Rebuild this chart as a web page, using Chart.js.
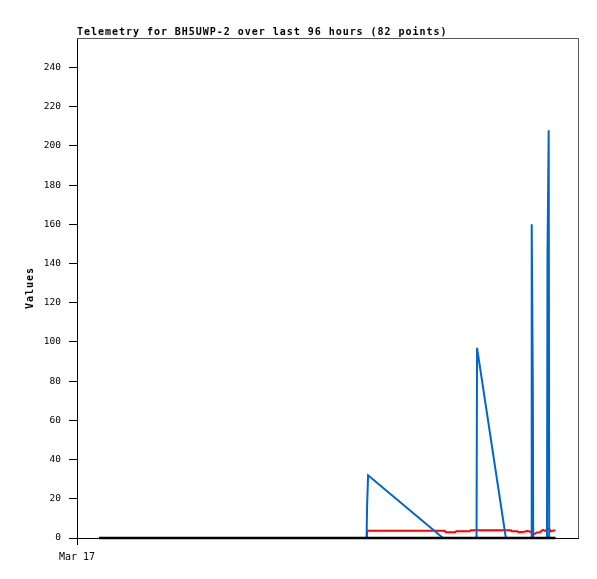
<!DOCTYPE html>
<html lang="en">
<head>
    <meta charset="UTF-8">
    <title>Telemetry for BH5UWP-2</title>
    <style>
        body { margin: 0; background: #fff; }
    </style>
</head>
<body>
    <canvas id="telemetryChart" width="597" height="579"></canvas>

    <script src="https://cdn.jsdelivr.net/npm/chart.js"></script>
    <script>
        // hours from the left edge of the plot (Mar 17)
        const blueTimes  = [4.4, 57.8, 57.9, 58.1, 73.05, 79.75, 79.85, 85.6, 90.62, 90.76, 90.98, 91.06, 93.81, 93.91, 94.15, 94.25, 95.5];
        const blueValues = [0, 0, 16, 32, 0, 0, 97, 0, 0, 160, 80, 0, 0, 145, 208, 0, 0];

        const redTimes  = [4.4, 57.85, 57.95, 73.4, 73.6, 75.5, 75.7, 78.4, 78.6, 86.6, 86.8, 87.9, 88.1, 89.3, 89.8, 90.4, 91.2, 91.8, 92.4, 93.0, 93.4, 94.2, 94.6, 95.5];
        const redValues = [0, 0, 3.7, 3.7, 2.9, 2.9, 3.4, 3.4, 3.9, 3.9, 3.4, 3.4, 2.9, 3.2, 3.6, 3.3, 1.9, 2.8, 3.0, 4.1, 3.6, 4.9, 3.4, 4.0];

        const blackTimes  = [4.4, 95.5];
        const blackValues = [0, 0];

        const yTicks = [0, 20, 40, 60, 80, 100, 120, 140, 160, 180, 200, 220, 240];
        const xTickLabels = ['Mar 17'];

        const chartTitle = 'Telemetry for BH5UWP-2 over last 96 hours (82 points)';
        const yTitle = 'Values';

        function toPoints(times, values) {
            return times.map((t, i) => ({ x: t, y: values[i] }));
        }

        // title, y label and the grey top/right frame
        const frame = {
            id: 'frame',
            beforeDatasetsDraw(chart) {
                const { ctx, chartArea: a } = chart;
                ctx.save();
                ctx.strokeStyle = '#555';
                ctx.lineWidth = 1;
                ctx.beginPath();
                ctx.moveTo(a.left, a.top + 0.5);
                ctx.lineTo(a.right + 0.5, a.top + 0.5);
                ctx.lineTo(a.right + 0.5, a.bottom);
                ctx.stroke();
                ctx.restore();
            },
            afterDraw(chart) {
                const { ctx, chartArea: a } = chart;
                ctx.save();
                ctx.fillStyle = '#000';
                ctx.font = 'bold 10px "DejaVu Sans Mono"';
                ctx.letterSpacing = '0.97px';
                ctx.textAlign = 'left';
                ctx.textBaseline = 'alphabetic';
                ctx.fillText(chartTitle, a.left, 35);

                ctx.translate(33, (a.top + a.bottom) / 2);
                ctx.rotate(-Math.PI / 2);
                ctx.textAlign = 'center';
                ctx.fillText(yTitle, 0, 0);
                ctx.restore();
            }
        };

        const ctx = document.getElementById('telemetryChart').getContext('2d');
        const chart = new Chart(ctx, {
            type: 'line',
            data: {
                datasets: [
                    {
                        label: 'black',
                        data: toPoints(blackTimes, blackValues),
                        borderColor: '#000000',
                        borderWidth: 2.5,
                        clip: 5,
                        order: 0
                    },
                    {
                        label: 'blue',
                        data: toPoints(blueTimes, blueValues),
                        borderColor: '#0066cc',
                        borderWidth: 2,
                        clip: 5,
                        order: 1
                    },
                    {
                        label: 'red',
                        data: toPoints(redTimes, redValues),
                        borderColor: '#ff0000',
                        borderWidth: 2,
                        clip: 5,
                        order: 2
                    }
                ]
            },
            options: {
                responsive: false,
                animation: false,
                devicePixelRatio: 1,
                layout: {
                    padding: { left: 0, right: 19, top: 38, bottom: 11 }
                },
                elements: {
                    point: { radius: 0 },
                    line: { tension: 0, fill: false }
                },
                plugins: {
                    legend: { display: false },
                    title: { display: false },
                    tooltip: { enabled: false }
                },
                scales: {
                    x: {
                        type: 'linear',
                        min: 0,
                        max: 100,
                        afterFit: (scale) => { scale.height = 30; },
                        afterBuildTicks: (scale) => { scale.ticks = [{ value: 0 }]; },
                        border: { color: '#000', width: 1 },
                        grid: {
                            drawOnChartArea: false,
                            tickLength: 7,
                            color: '#000'
                        },
                        ticks: {
                            autoSkip: false,
                            maxRotation: 0,
                            padding: 6,
                            color: '#000',
                            font: { family: 'DejaVu Sans Mono', size: 10 },
                            callback: (v, i) => xTickLabels[i]
                        }
                    },
                    y: {
                        min: 0,
                        max: 255,
                        afterFit: (scale) => { scale.width = 77; },
                        afterBuildTicks: (scale) => { scale.ticks = yTicks.map(v => ({ value: v })); },
                        border: { color: '#000', width: 1 },
                        grid: {
                            drawOnChartArea: false,
                            tickLength: 8,
                            color: '#000'
                        },
                        ticks: {
                            padding: 8,
                            color: '#000',
                            font: { family: 'DejaVu Sans Mono', size: 9.5 }
                        }
                    }
                }
            },
            plugins: [frame]
        });
    </script>
</body>
</html>
